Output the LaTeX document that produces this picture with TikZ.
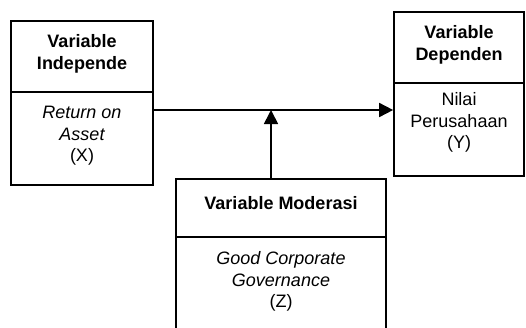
\documentclass[tikz,border=0pt]{standalone}
\usepackage{fontspec}
\setmainfont{Liberation Sans}
\usetikzlibrary{arrows.meta}
\begin{document}
\begin{tikzpicture}[x=1pt,y=-1pt,
  box/.style={draw,line width=1.7pt,rectangle,inner sep=0pt},
  txt/.style={align=center,inner sep=0pt,font=\fontsize{18}{21.5}\selectfont},
  hd/.style={txt,font=\fontsize{18}{21.5}\selectfont\bfseries},
  arr/.style={line width=1.7pt,-{Triangle[length=14pt,width=14pt]}}]
\useasboundingbox (0,0) rectangle (526,327);
\clip (0,0) rectangle (526,327);
% left box
\node[box,minimum width=142pt,minimum height=164pt] (L) at (82,103) {};
\draw[line width=1.7pt] (L.west |- 0,92) -- (L.east |- 0,92);
\node[hd] (Lh) at (82,54) {Variable\\Independe};
\node[txt] (Lb) at (82,136) {\itshape Return on\\\itshape Asset\\(X)};
% right box
\node[box,minimum width=130pt,minimum height=164pt] (R) at (459,94) {};
\draw[line width=1.7pt] (R.west |- 0,83) -- (R.east |- 0,83);
\node[hd] (Rh) at (459,45) {Variable\\Dependen};
\node[txt] (Rb) at (459,122.5) {Nilai\\Perusahaan\\(Y)};
% moderation box
\node[box,minimum width=210pt,minimum height=170pt] (M) at (281,264) {};
\draw[line width=1.7pt] (M.west |- 0,237) -- (M.east |- 0,237);
\node[hd] (Mh) at (281,203) {Variable Moderasi};
\node[txt] (Mb) at (281,281.5) {\itshape Good Corporate\\\itshape Governance\\(Z)};
% connectors
\coordinate (J) at (271,110);
\draw[arr] (L.east |- J) -- (R.west |- J);
\draw[arr] (M.north -| J) -- (J);
\end{tikzpicture}
\end{document}
